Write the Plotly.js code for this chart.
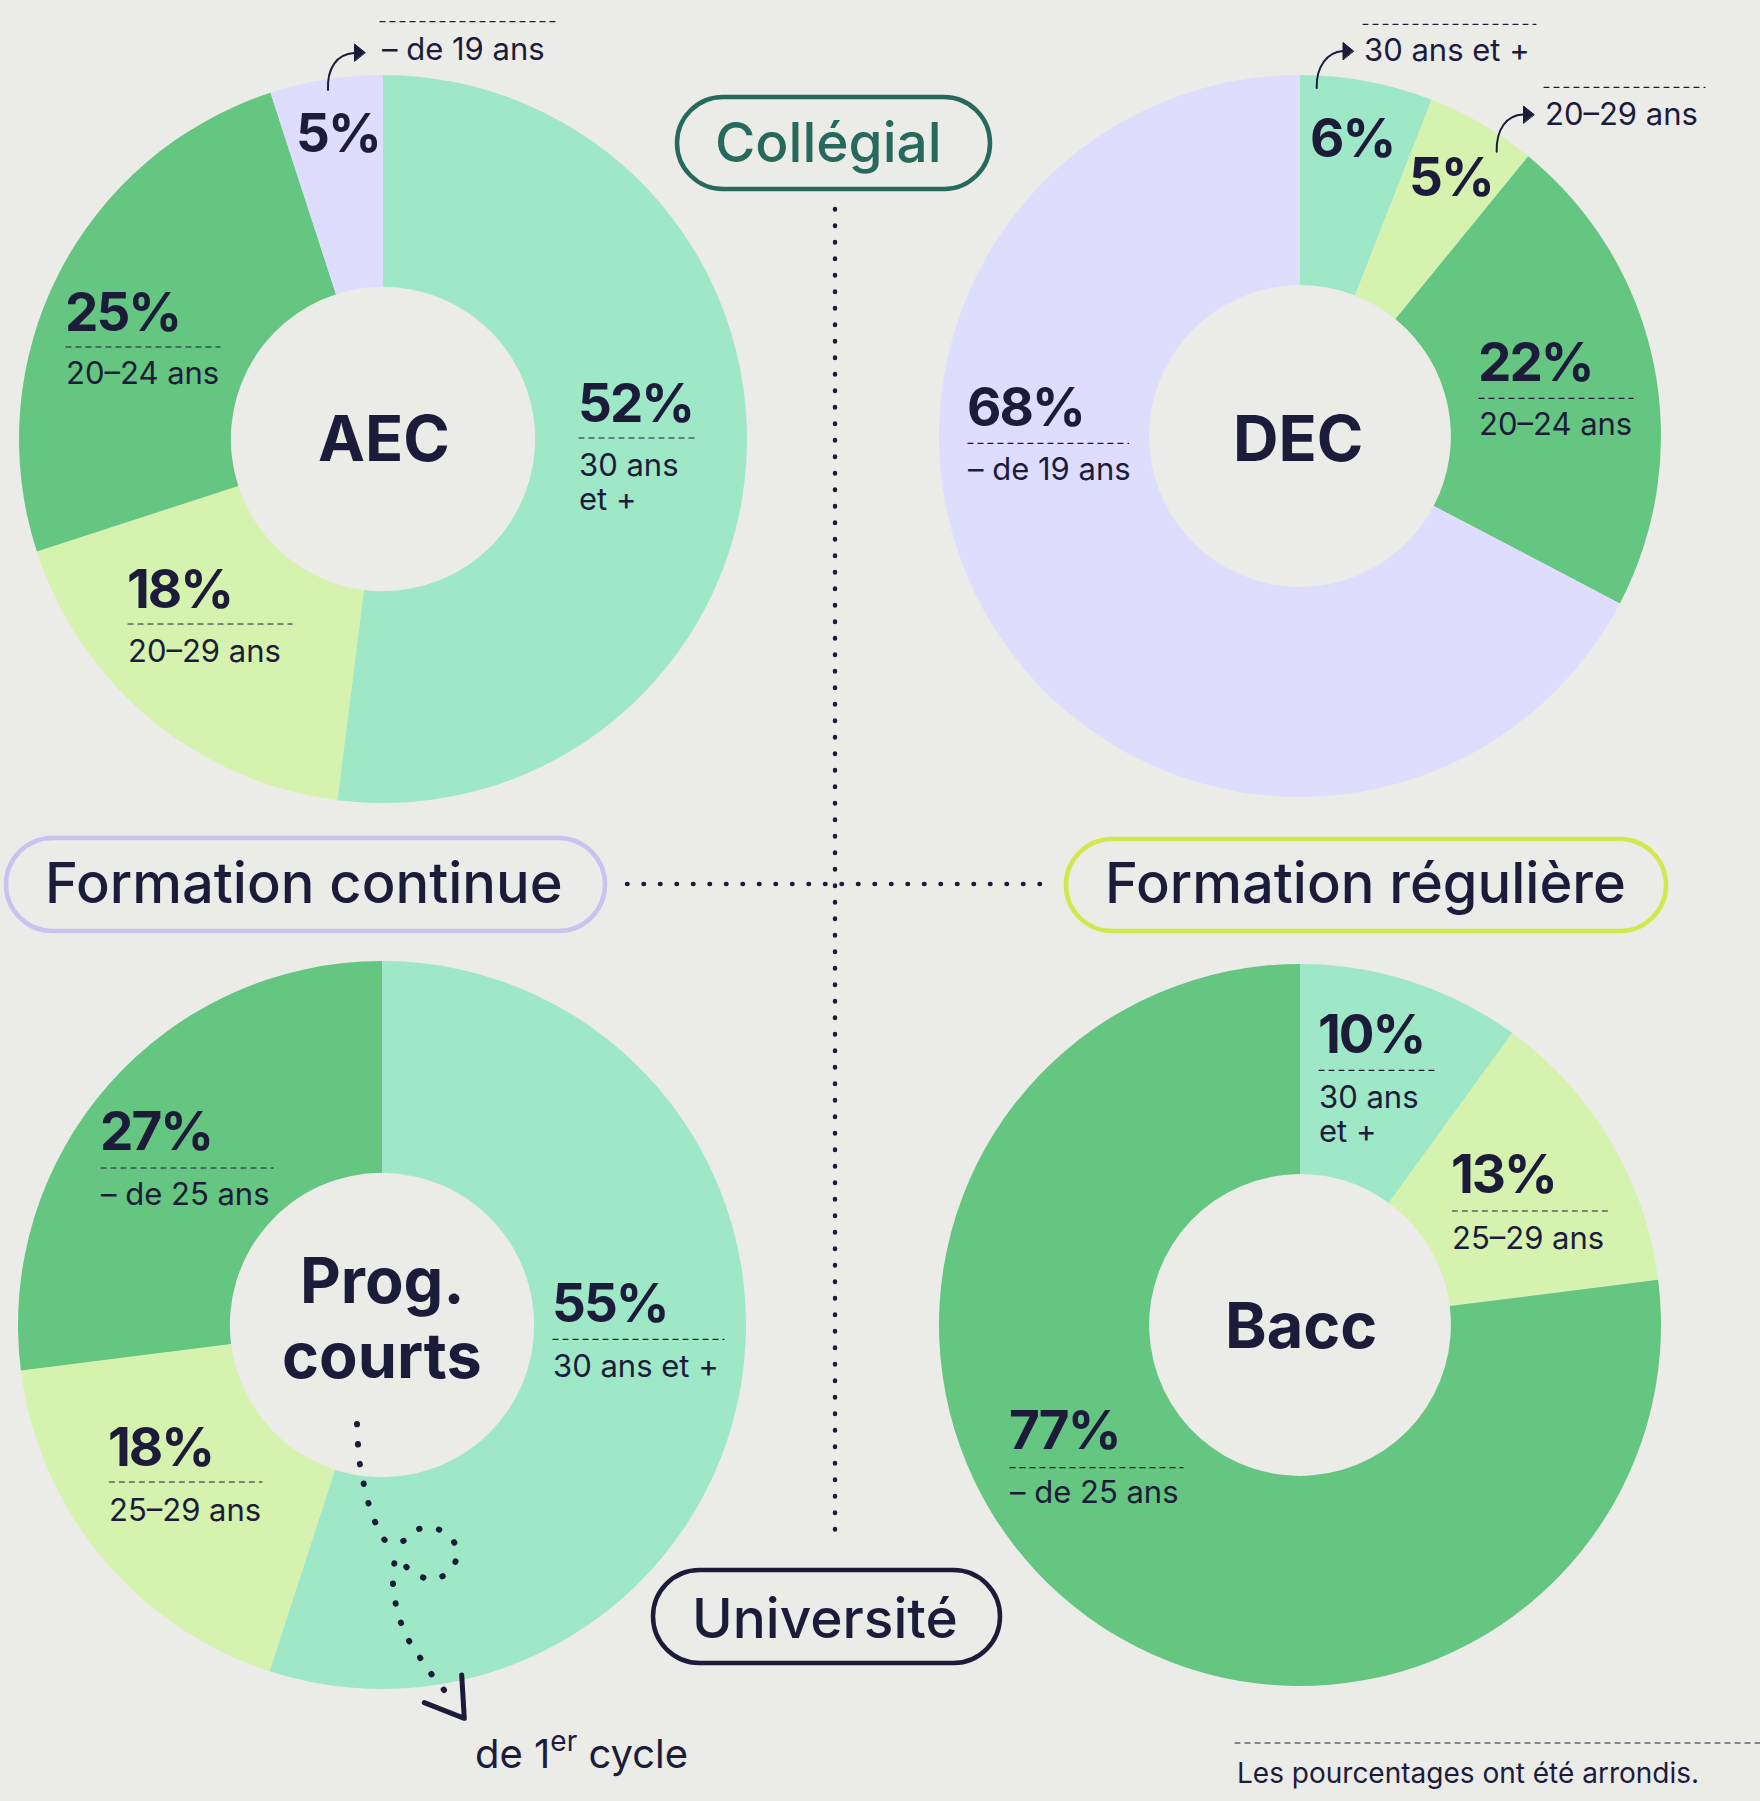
<!DOCTYPE html>
<html><head><meta charset="utf-8">
<script src="https://cdn.plot.ly/plotly-3.0.1.min.js"></script>
<style>
html,body{margin:0;padding:0;background:#ebebe8;}
#chart{width:1760px;height:1801px;}
.shapelayer path{stroke-linecap:round;stroke-linejoin:round;}
</style>
</head><body><div id="chart"></div>
<script>
// ---------------- DATA ----------------
const aecAges   = ['30 ans<br>et +', '20–29 ans', '20–24 ans', '– de 19 ans'];
const aecValues = [52, 18, 25, 5];
const decAges   = ['30 ans et +', '20–29 ans', '20–24 ans', '– de 19 ans'];
const decValues = [6, 5, 22, 68];
const progAges   = ['30 ans et +', '25–29 ans', '– de 25 ans'];
const progValues = [55, 18, 27];
const baccAges   = ['30 ans<br>et +', '25–29 ans', '– de 25 ans'];
const baccValues = [10, 13, 77];
const centerLabels = ['AEC', 'DEC', 'Prog.<br>courts', 'Bacc'];
const pillLabels = ['Collégial', 'Formation continue', 'Formation régulière', 'Université'];
const cycleNote = 'de 1<sup>er</sup> cycle';
const footnote = 'Les pourcentages ont été arrondis.';

// ---------------- STYLE ----------------
const W = 1760, H = 1801;
const MINT = '#9ee8c7', YEL = '#d5f2ae', GRN = '#64c680', LAV = '#deddfd';
const NAVY = '#1c1c3a', TEAL = '#27695b', BG = '#ebebe8';
const FONT = 'Inter, "Noto Sans", sans-serif';
const X = px => px / W;
const Y = py => 1 - py / H;

const charts = [
  {cx:383, cy:439, r:364, values:aecValues, labels:aecAges, colors:[MINT,YEL,GRN,LAV], center:[383.5,437.6],
   pos:[
    {x:579, base:422, dashY:438, dashX1:697, sub:[476,509.5]},
    {x:128, base:608, dashY:624, dashX1:292, sub:[662]},
    {x:66, base:331, dashY:347, dashX1:220, sub:[384]},
    {x:297, base:152, out:{x:382, base:59.3, dashY:21.7, dashX0:380, dashX1:558, arrow:[[328,90],[327,68],[337,54],[354,53]], tip:[365,52.5]}}
   ]},
  {cx:1300, cy:436, r:361, values:decValues, labels:decAges, colors:[MINT,YEL,GRN,LAV], center:[1298,437.6],
   pos:[
    {x:1311, base:157, out:{x:1364, base:60.7, dashY:24.3, dashX0:1363, dashX1:1536, arrow:[[1316.7,88],[1316,67],[1327,52],[1343,51]], tip:[1353.5,51]}},
    {x:1410, base:196, out:{x:1545, base:124.3, dashY:87.3, dashX0:1544, dashX1:1705, arrow:[[1496.7,151.7],[1496,129],[1507,115],[1523,114.5]], tip:[1534,114.5]}},
    {x:1479, base:381, dashY:398.4, dashX1:1633, sub:[435]},
    {x:968, base:426.6, dashY:443.4, dashX1:1128.6, sub:[480]}
   ]},
  {cx:382, cy:1325, r:364, values:progValues, labels:progAges, colors:[MINT,YEL,GRN], center:[382,1279.5], centerStep:75.5,
   pos:[
    {x:553, base:1322.5, dashY:1339.4, dashX1:724, sub:[1377]},
    {x:109.4, base:1465.8, dashY:1482, dashX1:262, sub:[1521]},
    {x:101, base:1150.4, dashY:1168, dashX1:273, sub:[1205]}
   ]},
  {cx:1300, cy:1325, r:361, values:baccValues, labels:baccAges, colors:[MINT,YEL,GRN], center:[1300.6,1324.6],
   pos:[
    {x:1319, base:1053.4, dashY:1070.3, dashX1:1437, sub:[1108,1142]},
    {x:1452.4, base:1193.6, dashY:1211, dashX1:1612, sub:[1248.7]},
    {x:1010, base:1449, dashY:1467.7, dashX1:1183, sub:[1503]}
   ]}
];

const pills = [
  {x0:677, y0:97, x1:990, y1:189, stroke:TEAL, color:TEAL, tx:828, ty:141.7},
  {x0:6, y0:838, x1:605, y1:931, stroke:'#c9c3ef', color:NAVY, tx:304, ty:883.3},
  {x0:1066, y0:839, x1:1666, y1:931, stroke:'#d3e84f', color:NAVY, tx:1365, ty:883.3},
  {x0:653, y0:1570, x1:1000, y1:1663, stroke:NAVY, color:NAVY, tx:825, ty:1617.8}
];

const PCT = 53, SUB = 31, CEN = 63;

// ---------------- BUILD ----------------
const traces = charts.map(c => ({
  type:'pie', values:c.values, labels:c.labels, sort:false, direction:'clockwise', rotation:0,
  hole:0.418, textinfo:'none', hoverinfo:'skip', showlegend:false,
  marker:{colors:c.colors, line:{width:0}},
  domain:{x:[X(c.cx-c.r), X(c.cx+c.r)], y:[Y(c.cy+c.r), Y(c.cy-c.r)]}
}));

const annotations = [];
const shapes = [];
function ann(text, px, py, size, opts){
  annotations.push(Object.assign({text, x:X(px), y:Y(py), xref:'paper', yref:'paper', showarrow:false,
    xanchor:'left', yanchor:'middle', borderpad:0, font:{family:FONT, size, color:NAVY}}, opts||{}));
}
function dashLine(x0, x1, y){
  shapes.push({type:'line', xref:'paper', yref:'paper', x0:X(x0), x1:X(x1), y0:Y(y), y1:Y(y),
    line:{color:NAVY, width:1.2, dash:'5px,5px'}, layer:'above'});
}

charts.forEach(c => {
  c.values.forEach((v, i) => {
    const p = c.pos[i];
    ann('<span style="letter-spacing:-2px"><b>' + v + '%</b></span>', p.x - 2, p.base - 0.3635*PCT, PCT);
    if (p.out) {
      const o = p.out;
      ann(c.labels[i], o.x - 1, o.base - 0.3635*SUB, SUB);
      dashLine(o.dashX0, o.dashX1, o.dashY);
      const a = o.arrow;
      shapes.push({type:'path', xref:'paper', yref:'paper', layer:'above',
        path:`M${X(a[0][0])},${Y(a[0][1])} C${X(a[1][0])},${Y(a[1][1])} ${X(a[2][0])},${Y(a[2][1])} ${X(a[3][0])},${Y(a[3][1])}`,
        line:{color:NAVY, width:2}});
      const t = o.tip;
      shapes.push({type:'path', xref:'paper', yref:'paper', layer:'above',
        path:`M${X(t[0])},${Y(t[1])} L${X(t[0]-10.5)},${Y(t[1]-8.5)} L${X(t[0]-10.5)},${Y(t[1]+8.5)} Z`,
        fillcolor:NAVY, line:{color:NAVY, width:1}});
    } else {
      dashLine(p.x, p.dashX1, p.dashY);
      const lines = c.labels[i].split('<br>');
      lines.forEach((ln, k) => ann(ln, p.x - 1, p.sub[k] - 0.3635*SUB, SUB));
    }
  });
});

// centre labels
charts.forEach((c, i) => {
  const lines = centerLabels[i].split('<br>');
  lines.forEach((ln, k) => ann('<b>' + ln + '</b>', c.center[0], c.center[1] + k*(c.centerStep||0), CEN, {xanchor:'center'}));
});

// pills
function pill(x0, y0, x1, y1){
  const r = (y1-y0)/2, yc = (y0+y1)/2, k = 0.5523*r;
  const P = (x, y) => X(x) + ',' + Y(y);
  return `M${P(x0+r,y0)} L${P(x1-r,y0)} C${P(x1-r+k,y0)} ${P(x1,yc-k)} ${P(x1,yc)} C${P(x1,yc+k)} ${P(x1-r+k,y1)} ${P(x1-r,y1)} L${P(x0+r,y1)} C${P(x0+r-k,y1)} ${P(x0,yc+k)} ${P(x0,yc)} C${P(x0,yc-k)} ${P(x0+r-k,y0)} ${P(x0+r,y0)} Z`;
}
pills.forEach((p, i) => {
  shapes.push({type:'path', xref:'paper', yref:'paper', layer:'above', path:pill(p.x0,p.y0,p.x1,p.y1),
    fillcolor:'rgba(0,0,0,0)', line:{color:p.stroke, width:4.5}});
  const fs = i === 0 || i === 3 ? 55 : 56;
  ann(pillLabels[i], p.tx, p.ty, fs, {xanchor:'center', font:{family:FONT, size:fs, color:p.color, weight:500}});
});

// dotted connector lines
shapes.push({type:'line', xref:'paper', yref:'paper', layer:'above', x0:X(835), x1:X(835), y0:Y(209), y1:Y(1545),
  line:{color:NAVY, width:4.5, dash:'0.5px,16px'}});
shapes.push({type:'line', xref:'paper', yref:'paper', layer:'above', x0:X(627), x1:X(1043), y0:Y(884), y1:Y(884),
  line:{color:NAVY, width:4.5, dash:'0.5px,16px'}});

// dotted squiggle arrow to "de 1er cycle"
const sq = [[357,1424],[358,1445],[360,1465],[364,1485],[369,1505],[376,1524],[386,1541],[403,1541],[419,1529],[440,1530],[456,1546],[453,1567],[435,1579],[413,1573],[397,1558],[393,1579],[395,1600],[400,1620],[408,1639],[419,1656],[429,1671],[441,1686],[452,1701]];
(function(){
  let d = `M${X(sq[0][0])},${Y(sq[0][1])}`;
  for (let i = 0; i < sq.length-1; i++) {
    const p0 = sq[i-1] || sq[i], p1 = sq[i], p2 = sq[i+1], p3 = sq[i+2] || p2;
    const c1 = [p1[0] + (p2[0]-p0[0])/6, p1[1] + (p2[1]-p0[1])/6];
    const c2 = [p2[0] - (p3[0]-p1[0])/6, p2[1] - (p3[1]-p1[1])/6];
    d += ` C${X(c1[0])},${Y(c1[1])} ${X(c2[0])},${Y(c2[1])} ${X(p2[0])},${Y(p2[1])}`;
  }
  shapes.push({type:'path', xref:'paper', yref:'paper', layer:'above', path:d,
    line:{color:NAVY, width:6, dash:'0.5px,19.5px'}});
  shapes.push({type:'path', xref:'paper', yref:'paper', layer:'above',
    path:`M${X(461.7)},${Y(1675)} L${X(464.3)},${Y(1718.3)} L${X(424.3)},${Y(1702.7)}`,
    line:{color:NAVY, width:5}});
})();
ann(cycleNote, 474, 1769.3 + 0.2422*40, 40, {yanchor:'bottom'});

// footnote
dashLine(1235, 1760, 1743);
ann(footnote, 1236, 1783 - 0.3635*28, 28);

const layout = {
  width:W, height:H, margin:{l:0, r:0, t:0, b:0, pad:0},
  paper_bgcolor:BG, plot_bgcolor:BG, showlegend:false,
  annotations, shapes
};
Plotly.newPlot('chart', traces, layout, {staticPlot:true, displayModeBar:false});
</script>
</body></html>
